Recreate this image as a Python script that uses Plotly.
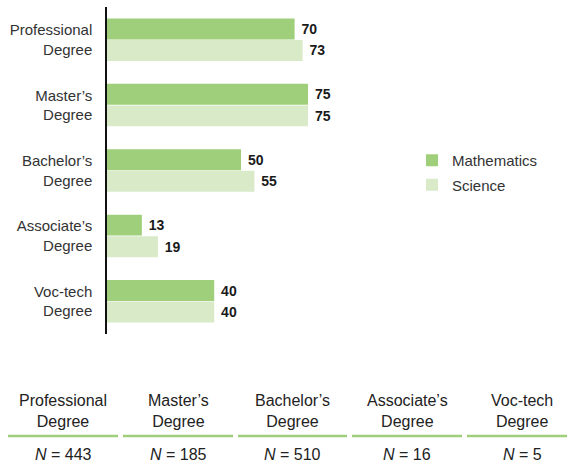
import plotly.graph_objects as go

categories = ["Professional<br>Degree", "Master’s<br>Degree", "Bachelor’s<br>Degree",
              "Associate’s<br>Degree", "Voc-tech<br>Degree"]
math_values = [70, 75, 50, 13, 40]
science_values = [73, 75, 55, 19, 40]
table_headers = ["Professional<br>Degree", "Master’s<br>Degree", "Bachelor’s<br>Degree",
                 "Associate’s<br>Degree", "Voc-tech<br>Degree"]
n_values = [443, 185, 510, 16, 5]

MATH_COLOR = "#9fcf7a"
SCI_COLOR = "#d9eac8"
FONT = "Liberation Sans, Arial, sans-serif"

W, H = 567, 462
L, T = 107, 7
PW, PH = 268, 327


def px_x(px):
    return (px - L) / PW


def px_y(py):
    return (T + PH - py) / PH


fig = go.Figure()
fig.add_trace(go.Bar(
    y=categories, x=math_values, orientation="h", name="Mathematics",
    legendgroup="math",
    marker=dict(color=MATH_COLOR, line=dict(width=0)),
    texttemplate="&nbsp;<b>%{x}</b>", textposition="outside",
    textfont=dict(size=14, color="#1a1a1a", family=FONT), cliponaxis=False,
))
fig.add_trace(go.Bar(
    y=categories, x=science_values, orientation="h", name="Science",
    legendgroup="sci",
    marker=dict(color=SCI_COLOR, line=dict(width=0)),
    texttemplate="&nbsp;<b>%{x}</b>", textposition="outside",
    textfont=dict(size=14, color="#1a1a1a", family=FONT), cliponaxis=False,
))

# bottom table
col_centers = [63, 178, 292, 407, 522]
col_lines = [(8, 118), (123, 233), (238, 347), (352, 462), (467, 577)]
for i, (hdr, n) in enumerate(zip(table_headers, n_values)):
    fig.add_annotation(x=px_x(col_centers[i]), y=px_y(411), xref="paper", yref="paper",
                       text=hdr, showarrow=False, xanchor="center", yanchor="middle",
                       font=dict(size=16, color="#222222", family=FONT))
    fig.add_annotation(x=px_x(col_centers[i]), y=px_y(454), xref="paper", yref="paper",
                       text=f"<i>N</i> = {n}", showarrow=False, xanchor="center", yanchor="middle",
                       font=dict(size=16, color="#222222", family=FONT))
    x0, x1 = col_lines[i]
    fig.add_shape(type="line", xref="paper", yref="paper",
                  x0=px_x(x0), x1=px_x(x1), y0=px_y(436), y1=px_y(436),
                  line=dict(color=MATH_COLOR, width=2.5))

fig.update_layout(
    width=W, height=H,
    margin=dict(l=L, t=T, r=W - L - PW, b=H - T - PH, pad=0),
    paper_bgcolor="white", plot_bgcolor="white",
    barmode="group", bargap=0.34, bargroupgap=0.03,
    font=dict(family=FONT, size=15, color="#333333"),
    showlegend=True,
    legend=dict(x=px_x(412), y=px_y(144), xanchor="left", yanchor="top",
                xref="paper", yref="paper", traceorder="grouped", tracegroupgap=2,
                font=dict(size=15, color="#333333", family=FONT),
                itemwidth=30, bgcolor="rgba(0,0,0,0)"),
    xaxis=dict(range=[0, 100], visible=False, showgrid=False, zeroline=False),
    yaxis=dict(autorange="reversed", showline=True, linecolor="#111111", linewidth=1.5,
               showgrid=False, zeroline=False, ticks="", ticklabelstandoff=10,
               tickfont=dict(size=15, color="#333333", family=FONT)),
)

fig.write_html("out.html", config={"displayModeBar": False},
               post_script="document.body.style.margin='0';document.body.style.padding='0';")
